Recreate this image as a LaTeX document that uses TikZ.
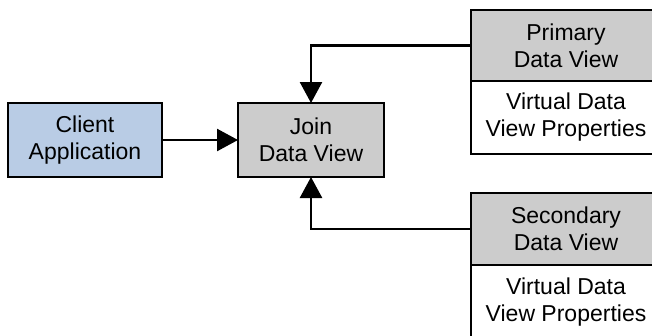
\documentclass[tikz,border=0pt]{standalone}
\usepackage{fontspec}
\setmainfont{Liberation Sans}
\usepackage{xcolor}
\usetikzlibrary{arrows.meta,positioning}

\definecolor{clientblue}{RGB}{185,204,229}
\definecolor{viewgray}{RGB}{204,204,204}

\tikzset{
    box/.style={draw, line width=2.5pt, align=center, inner sep=0pt, outer sep=0pt,
        font=\fontsize{23}{27}\selectfont},
    link/.style={line width=2.5pt, -{Triangle[length=21pt,width=22pt]}}
}

\begin{document}
\begin{tikzpicture}[x=1pt,y=-1pt]
    \useasboundingbox (0,0) rectangle (652,335);

    % Client and join view
    \node[box, fill=clientblue, minimum width=154pt, minimum height=74pt] (client) at (85,140) {Client\\Application};
    \node[box, fill=viewgray, minimum width=146pt, minimum height=74pt] (join) at (311,140) {Join\\Data View};

    % Primary data view
    \node[box, fill=viewgray, minimum width=190pt, minimum height=71pt] (primary) at (566,45.5) {Primary\\Data View};
    \node[box, fill=white, minimum width=190pt, minimum height=73pt, below=0pt of primary] (primprops) {Virtual Data\\View Properties};

    % Secondary data view
    \node[box, fill=viewgray, minimum width=190pt, minimum height=72pt] (secondary) at (566,229) {Secondary\\Data View};
    \node[box, fill=white, minimum width=190pt, minimum height=74pt, below=0pt of secondary] (secprops) {Virtual Data\\View Properties};

    % Connectors
    \draw[link] (client) -- (join);
    \draw[link] (primary.west) -| (join.north);
    \draw[link] (secondary.west) -| (join.south);
\end{tikzpicture}
\end{document}
